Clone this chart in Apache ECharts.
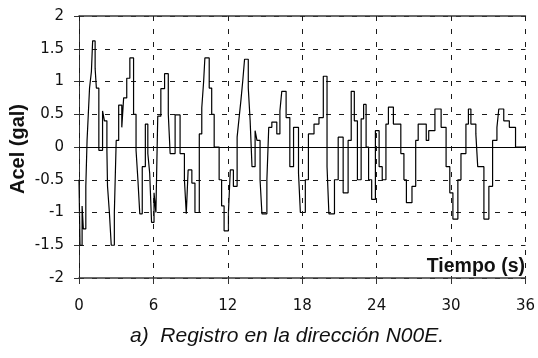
<!DOCTYPE html>
<html>
<head>
<meta charset="utf-8">
<script src="https://cdn.jsdelivr.net/npm/echarts@6/dist/echarts.min.js"></script>
<style>
html, body { margin: 0; padding: 0; background: #ffffff; }
#chart { width: 538px; height: 358px; }
</style>
</head>
<body>
<div id="chart"></div>
<script>
// Acceleration record, N00E component: each value holds from its start time
// until the next start time (staircase signal).
const stepTimes = [
  0.00, 0.08, 0.25, 0.35, 0.55, 0.65, 0.75, 0.85, 1.00, 1.10,
  1.30, 1.40, 1.60, 1.90, 2.05, 2.25, 2.30, 2.45, 2.60, 2.85,
  3.00, 3.20, 3.45, 3.60, 3.85, 4.10, 4.40, 4.60, 4.75, 4.90,
  5.10, 5.35, 5.55, 5.70, 5.85, 6.05, 6.20, 6.35, 6.60, 6.90,
  7.20, 7.35, 7.75, 8.15, 8.50, 8.65, 8.80, 9.10, 9.35, 9.70,
  9.90, 10.05, 10.15, 10.50, 10.70, 10.90, 11.30, 11.50, 11.70, 12.05,
  12.20, 12.45, 12.75, 12.90, 13.05, 13.20, 13.35, 13.65, 13.80, 13.95,
  14.20, 14.35, 14.60, 14.75, 15.15, 15.30, 15.55, 15.95, 16.20, 16.35,
  16.70, 17.00, 17.30, 17.70, 17.85, 18.25, 18.50, 18.95, 19.35, 19.70,
  20.00, 20.15, 20.60, 20.90, 21.30, 21.70, 21.95, 22.20, 22.45, 22.75,
  22.95, 23.15, 23.35, 23.60, 23.90, 24.20, 24.45, 24.75, 24.95, 25.35,
  25.95, 26.20, 26.40, 26.85, 27.15, 27.35, 28.00, 28.20, 28.70, 29.20,
  29.60, 29.90, 30.15, 30.55, 30.80, 31.20, 31.40, 31.60, 32.00, 32.15,
  32.65, 33.05, 33.35, 33.70, 33.85, 34.25, 34.70, 35.20, 36.00
];
const stepValues = [
  -0.50, -1.50, -0.90, -1.25, -0.60, 0.10, 0.50, 0.90, 1.15, 1.62,
  1.20, 0.90, -0.05, 0.55, 0.40, -0.05, -0.60, -1.00, -1.50, -1.00,
  0.10, 0.64, 0.30, 0.75, 1.05, 1.36, 0.50, -0.05, -0.50, -1.02,
  -0.30, 0.35, -0.10, -0.40, -1.15, -0.70, -1.00, 0.47, 0.89, 1.12,
  0.50, -0.10, 0.49, -0.10, -0.50, -1.02, -0.35, -0.55, -1.00, 0.20,
  0.60, 1.00, 1.36, 0.90, 0.50, 0.00, -0.50, -0.90, -1.28, -1.00,
  -0.35, -0.60, 0.15, 0.43, 0.70, 1.00, 1.34, 0.90, 0.40, -0.30,
  0.25, 0.10, -0.50, -1.02, -0.50, 0.30, 0.38, 0.20, 0.55, 0.85,
  0.45, -0.30, 0.30, -0.40, -1.00, -0.50, 0.20, 0.35, 0.45, 1.08,
  -0.30, -1.02, -0.50, 0.15, -0.70, 0.10, 0.85, 0.40, -0.50, 0.43,
  0.65, 0.00, -0.50, -0.80, 0.25, -0.30, -0.50, 0.35, 0.61, 0.35,
  -0.10, -0.50, -0.85, -0.60, 0.10, 0.35, 0.10, 0.25, 0.58, 0.30,
  -0.30, -0.70, -1.10, -0.50, -0.10, 0.35, 0.58, 0.35, 0.20, -0.30,
  -1.10, -0.60, 0.10, 0.30, 0.58, 0.40, 0.30, 0.00, 0.00
];

// Axis ranges and tick spacing
const timeRange = [0, 36];
const timeStep = 6;
const acelRange = [-2, 2];
const acelStep = 0.5;

// Text
const yTitle = 'Acel (gal)';
const xTitle = 'Tiempo (s)';
const caption = 'a)  Registro en la dirección N00E.';

const seriesData = stepTimes.map((t, i) => [t, stepValues[i]]);

const chart = echarts.init(document.getElementById('chart'), null, { renderer: 'canvas' });

const dashed = { color: '#1a1a1a', width: 1, type: [5, 8] };
const frame = { color: '#3a3a3a', width: 1.5 };
const tickFont = { fontFamily: 'DejaVu Sans, sans-serif', fontSize: 15, color: '#111' };

chart.setOption({
  animation: false,
  backgroundColor: '#ffffff',
  grid: { left: 79, right: 10, top: 16, bottom: 80 },
  xAxis: [
    {
      type: 'value',
      min: timeRange[0], max: timeRange[1], interval: timeStep,
      position: 'bottom',
      axisLine: { show: true, onZero: false, lineStyle: frame },
      axisTick: { show: true, length: 6, lineStyle: { color: '#333' } },
      axisLabel: Object.assign({ margin: 21 }, tickFont),
      splitLine: { show: true, lineStyle: dashed },
      z: 20
    },
    {
      type: 'value',
      min: timeRange[0], max: timeRange[1], interval: timeStep,
      position: 'top',
      axisLine: { show: true, onZero: false, lineStyle: frame },
      axisTick: { show: false },
      axisLabel: { show: false },
      splitLine: { show: false }
    }
  ],
  yAxis: {
    type: 'value',
    min: acelRange[0], max: acelRange[1], interval: acelStep,
    axisLine: { show: true, onZero: false, lineStyle: { color: '#333', width: 1 } },
    axisTick: { show: true, length: 5, lineStyle: { color: '#333' } },
    axisLabel: Object.assign({ margin: 15 }, tickFont),
    splitLine: { show: true, lineStyle: dashed }
  },
  series: [
    {
      type: 'line',
      data: seriesData,
      step: 'end',
      showSymbol: false,
      symbol: 'none',
      lineStyle: { color: '#000', width: 1.2 },
      markLine: {
        silent: true,
        symbol: 'none',
        label: { show: false },
        lineStyle: { color: '#000', width: 1, type: 'solid' },
        data: [{ yAxis: 0 }]
      }
    }
  ],
  graphic: [
    {
      type: 'text',
      x: 18, y: 149,
      rotation: Math.PI / 2,
      style: {
        text: yTitle,
        fontFamily: 'Liberation Sans, Arial, sans-serif',
        fontWeight: 'bold', fontSize: 20, fill: '#111',
        align: 'center', verticalAlign: 'middle'
      }
    },
    {
      type: 'text',
      x: 526, y: 267,
      z: 5,
      style: {
        text: xTitle,
        fontFamily: 'Liberation Sans, Arial, sans-serif',
        fontWeight: 'bold', fontSize: 19.5, fill: '#111',
        align: 'right', verticalAlign: 'middle',
        backgroundColor: '#ffffff', padding: [0, 1, 0, 3]
      }
    },
    {
      type: 'text',
      x: 287, y: 336,
      style: {
        text: caption,
        fontFamily: 'Liberation Sans, Arial, sans-serif',
        fontStyle: 'italic', fontSize: 21, fill: '#111',
        align: 'center', verticalAlign: 'middle'
      }
    }
  ]
});
</script>
</body>
</html>
